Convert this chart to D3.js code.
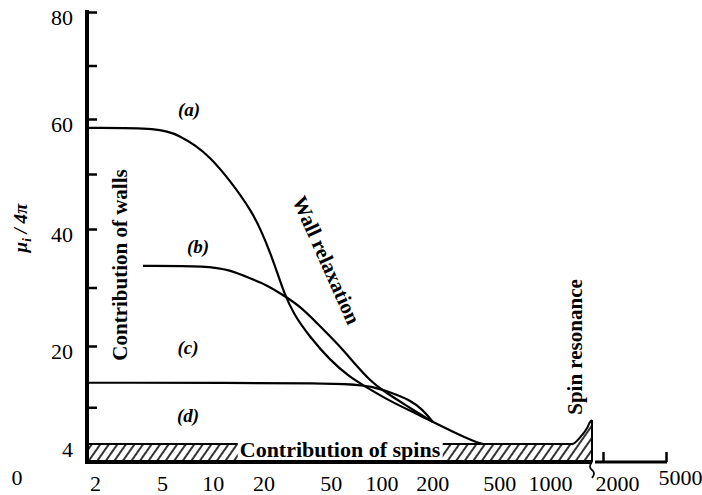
<!DOCTYPE html>
<html>
<head>
<meta charset="utf-8">
<script src="https://cdn.jsdelivr.net/npm/d3@7"></script>
<style>
  body { margin: 0; background: #fff; }
</style>
</head>
<body>
<div id="chart"></div>
<script>
// curves: frequency (MHz) and mu_i/4pi
var freqA = [1.82, 4.9, 6.4, 7.8, 9.6, 12.6, 17.3, 19.6, 21.8, 24.4, 26.4, 29.9, 37.7, 49.5, 65, 78, 112, 163, 202, 266, 349, 400];
var valA  = [58.4, 58.4, 56.9, 55.3, 53.1, 48.9, 42.9, 39.3, 36.1, 32.1, 29.2, 25.6, 21.5, 17.7, 14.9, 13.6, 11.0, 8.9, 7.6, 6.0, 4.5, 4.0];

var freqB = [3.85, 9.4, 12.6, 16.6, 21, 26.1, 32.9, 41.5, 54.5, 71.6, 85.5, 102, 142, 176, 202];
var valB  = [33.7, 33.7, 33.0, 31.6, 30.4, 28.7, 26.8, 23.9, 20.5, 16.7, 14.4, 12.7, 10.2, 8.6, 7.6];

var freqC = [1.82, 67.8, 89, 112, 148, 176, 202];
var valC  = [14.0, 14.0, 13.3, 12.5, 11.2, 9.6, 7.6];

// spin contribution band, with the resonance spike
var freqSpin = [1.82, 1350, 1510, 1660, 1730, 1775];
var valSpin  = [4, 4, 5.1, 6.6, 7.6, 7.9];

var yTicks = [80, 70, 60, 50, 40, 30, 20, 10];
var yLabels = [80, 60, 40, 20, 4];
var xLabels = [2, 5, 10, 20, 50, 100, 200, 500, 1000];
var xLabelsHigh = [2000, 5000];

var width = 702, height = 495;
var serif = "'Liberation Serif', 'Times New Roman', serif";

var svg = d3.select("#chart").append("svg")
  .attr("width", width)
  .attr("height", height)
  .style("font-family", serif);

svg.append("rect").attr("width", width).attr("height", height).attr("fill", "#fff");

var defs = svg.append("defs");
var pat = defs.append("pattern")
  .attr("id", "hatch")
  .attr("patternUnits", "userSpaceOnUse")
  .attr("width", 7).attr("height", 7)
  .attr("patternTransform", "rotate(35)");
pat.append("line")
  .attr("x1", 1).attr("y1", 0).attr("x2", 1).attr("y2", 7)
  .attr("stroke", "#000").attr("stroke-width", 1.6);

// scales (the hand drawn y axis is not quite even, so a piecewise scale)
var x = d3.scaleLog().domain([2, 1000]).range([95, 550]);
var xHigh = d3.scaleLog().domain([2000, 5000]).range([603, 666]);
var y = d3.scaleLinear().domain([0, 4, 20, 40, 60, 80]).range([462, 444, 346, 229, 119, 12]);

var line = d3.line()
  .x(function(d) { return x(d[0]); })
  .y(function(d) { return y(d[1]); })
  .curve(d3.curveBasis);

// hatched band
var spinData = d3.zip(freqSpin, valSpin);
var area = d3.area()
  .x(function(d) { return x(d[0]); })
  .y0(y(0))
  .y1(function(d) { return y(d[1]); })
  .curve(d3.curveMonotoneX);
var spinLine = d3.line()
  .x(function(d) { return x(d[0]); })
  .y(function(d) { return y(d[1]); })
  .curve(d3.curveMonotoneX);

svg.append("path")
  .datum(spinData)
  .attr("d", area)
  .attr("fill", "url(#hatch)");

svg.append("path")
  .datum(spinData)
  .attr("d", spinLine)
  .attr("fill", "none")
  .attr("stroke", "#000")
  .attr("stroke-width", 2);

svg.append("line")
  .attr("x1", x(1775)).attr("x2", x(1775))
  .attr("y1", y(7.9)).attr("y2", y(0))
  .attr("stroke", "#000").attr("stroke-width", 2);

// curves a, b, c
[[freqA, valA], [freqB, valB], [freqC, valC]].forEach(function(s) {
  svg.append("path")
    .datum(d3.zip(s[0], s[1]))
    .attr("d", line)
    .attr("fill", "none")
    .attr("stroke", "#000")
    .attr("stroke-width", 2.2);
});

// y axis
var yTickG = svg.append("g")
  .attr("transform", "translate(87,0)")
  .call(d3.axisLeft(y).tickValues(yTicks).tickSize(-10).tickFormat(""));
yTickG.select(".domain").remove();
yTickG.selectAll("line").attr("stroke", "#000").attr("stroke-width", 2.5);

var yLabG = svg.append("g")
  .attr("transform", "translate(87,0)")
  .call(d3.axisLeft(y).tickValues(yLabels).tickSize(0).tickPadding(14));
yLabG.select(".domain").remove();
yLabG.attr("font-family", null);
yLabG.selectAll("text")
  .attr("font-size", 22)
  .attr("dy", "0.55em");

svg.append("text")
  .attr("x", 17).attr("y", 485)
  .attr("text-anchor", "middle")
  .attr("font-size", 22)
  .text("0");

svg.append("line")
  .attr("x1", 87).attr("x2", 87)
  .attr("y1", 10).attr("y2", 464)
  .attr("stroke", "#000").attr("stroke-width", 4);

// x axis (broken after the spike)
svg.append("line")
  .attr("x1", 85).attr("x2", x(1775))
  .attr("y1", 462).attr("y2", 462)
  .attr("stroke", "#000").attr("stroke-width", 4);

svg.append("line")
  .attr("x1", x(1775) + 3).attr("x2", xHigh(5000) + 1)
  .attr("y1", 462).attr("y2", 462)
  .attr("stroke", "#000").attr("stroke-width", 3);

svg.append("path")
  .attr("d", "M" + x(1775) + ",462 q-4,5 0,8 q4,3 0,8")
  .attr("fill", "none")
  .attr("stroke", "#000").attr("stroke-width", 1.8);

var xLabG = svg.append("g")
  .attr("transform", "translate(0,462)")
  .call(d3.axisBottom(x).tickValues(xLabels).tickFormat(d3.format("d")).tickSize(0).tickPadding(13));
xLabG.select(".domain").remove();
xLabG.attr("font-family", null);
xLabG.selectAll("text").attr("font-size", 22);

var xHighG = svg.append("g")
  .attr("transform", "translate(0,462)")
  .call(d3.axisBottom(xHigh).tickValues(xLabelsHigh).tickFormat(d3.format("d")).tickSize(-10).tickPadding(13));
xHighG.select(".domain").remove();
xHighG.attr("font-family", null);
xHighG.selectAll("line").attr("stroke", "#000").attr("stroke-width", 2.5);
xHighG.selectAll("text")
  .attr("font-size", 22)
  .attr("text-anchor", "start")
  .attr("dx", -8)
  .attr("dy", function(d) { return d === 5000 ? "0.45em" : "0.71em"; });

// y title
var yt = svg.append("text")
  .attr("transform", "translate(27,228) rotate(-90)")
  .attr("text-anchor", "middle")
  .attr("font-size", 19)
  .attr("font-weight", "bold")
  .attr("font-style", "italic");
yt.append("tspan").text("\u03bc");
yt.append("tspan").attr("font-size", 13).attr("dy", 4).text("i");
yt.append("tspan").attr("dy", -4).text(" / 4\u03c0");

// annotations
function note(txt, tx, size, style) {
  return svg.append("text")
    .attr("transform", tx)
    .attr("text-anchor", "middle")
    .attr("font-size", size)
    .attr("font-weight", "bold")
    .attr("font-style", style || "normal")
    .text(txt);
}

note("(a)", "translate(189,116)", 19, "italic");
note("(b)", "translate(198,253)", 19, "italic");
note("(c)", "translate(188,354)", 19, "italic");
note("(d)", "translate(188,422)", 19, "italic");

note("Contribution of walls", "translate(127,265) rotate(-90)", 21);
note("Wall relaxation", "translate(320,263) rotate(66)", 21);
note("Spin resonance", "translate(582,347) rotate(-90)", 21);

var spins = note("Contribution of spins", "translate(340,457)", 22);
var bb = spins.node().getBBox();
svg.insert("rect", function() { return spins.node(); })
  .attr("x", 340 + bb.x - 2).attr("y", 441)
  .attr("width", bb.width + 4).attr("height", 19)
  .attr("fill", "#fff");
</script>
</body>
</html>
